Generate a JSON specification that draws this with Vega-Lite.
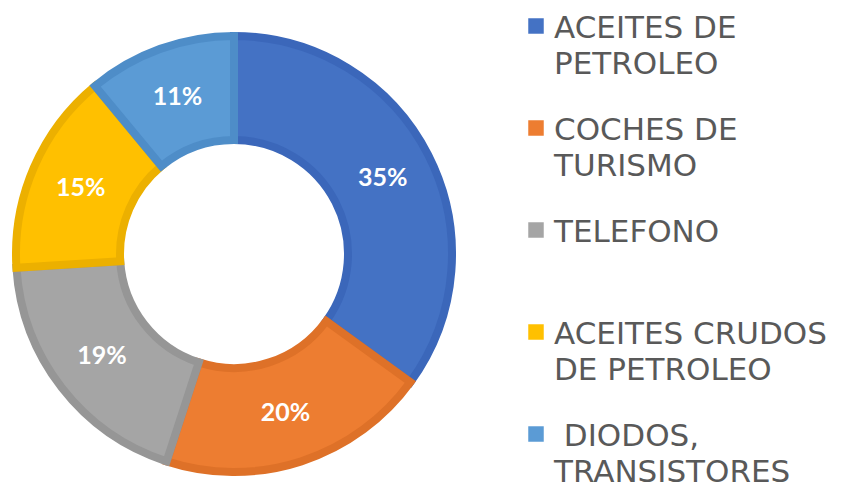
{
  "$schema": "https://vega.github.io/schema/vega-lite/v6.json",
  "padding": {"left": 0, "top": 11, "right": 0, "bottom": 0},
  "background": "white",
  "spacing": 0,
  "config": {"view": {"stroke": null}},
  "data": {
    "values": [
      {"orden": 1, "categoria": "ACEITES DE PETROLEO", "lineas": ["ACEITES DE", "PETROLEO"], "valor": 35, "etiqueta": "35%"},
      {"orden": 2, "categoria": "COCHES DE TURISMO", "lineas": ["COCHES DE", "TURISMO"], "valor": 20, "etiqueta": "20%"},
      {"orden": 3, "categoria": "TELEFONO", "lineas": ["TELEFONO"], "valor": 19, "etiqueta": "19%"},
      {"orden": 4, "categoria": "ACEITES CRUDOS DE PETROLEO", "lineas": ["ACEITES CRUDOS", "DE PETROLEO"], "valor": 15, "etiqueta": "15%"},
      {"orden": 5, "categoria": "DIODOS, TRANSISTORES", "lineas": ["\u200b\u00a0DIODOS,", "TRANSISTORES"], "valor": 11, "etiqueta": "11%"}
    ]
  },
  "hconcat": [
    {
      "width": 466,
      "height": 486,
      "encoding": {
        "theta": {"field": "valor", "type": "quantitative", "stack": true},
        "order": {"field": "orden", "type": "quantitative"}
      },
      "layer": [
        {
          "mark": {"type": "arc", "innerRadius": 114, "outerRadius": 218, "strokeWidth": 8, "strokeJoin": "miter"},
          "encoding": {
            "color": {
              "field": "categoria", "type": "nominal",
              "scale": {
                "domain": ["ACEITES DE PETROLEO", "COCHES DE TURISMO", "TELEFONO", "ACEITES CRUDOS DE PETROLEO", "DIODOS, TRANSISTORES"],
                "range": ["#4472C4", "#ED7D31", "#A5A5A5", "#FFC000", "#5B9BD5"]
              },
              "legend": null
            },
            "stroke": {
              "field": "categoria", "type": "nominal",
              "scale": {
                "domain": ["ACEITES DE PETROLEO", "COCHES DE TURISMO", "TELEFONO", "ACEITES CRUDOS DE PETROLEO", "DIODOS, TRANSISTORES"],
                "range": ["#3B67BA", "#DE7128", "#969696", "#ECB000", "#4E8DC8"]
              },
              "legend": null
            }
          }
        },
        {
          "mark": {"type": "text", "radius": 167, "font": "Lato", "fontWeight": "bold", "fontSize": 25, "fill": "white"},
          "encoding": {"text": {"field": "etiqueta", "type": "nominal"}}
        }
      ]
    },
    {
      "width": 136,
      "height": 438,
      "encoding": {
        "y": {
          "field": "categoria", "type": "nominal",
          "scale": {
            "type": "point", "padding": 0.147,
            "domain": ["ACEITES DE PETROLEO", "COCHES DE TURISMO", "TELEFONO", "ACEITES CRUDOS DE PETROLEO", "DIODOS, TRANSISTORES"]
          },
          "axis": null
        }
      },
      "layer": [
        {
          "mark": {"type": "point", "shape": "square", "size": 240, "filled": true, "opacity": 1, "strokeWidth": 0},
          "encoding": {
            "color": {
              "field": "categoria", "type": "nominal",
              "scale": {
                "domain": ["ACEITES DE PETROLEO", "COCHES DE TURISMO", "TELEFONO", "ACEITES CRUDOS DE PETROLEO", "DIODOS, TRANSISTORES"],
                "range": ["#4472C4", "#ED7D31", "#A5A5A5", "#FFC000", "#5B9BD5"]
              },
              "legend": null
            }
          }
        },
        {
          "mark": {"type": "text", "align": "left", "baseline": "alphabetic", "dx": 18, "dy": 12, "font": "DejaVu Sans", "fontSize": 31, "lineHeight": 36, "fill": "#595959"},
          "encoding": {"text": {"field": "lineas", "type": "nominal"}}
        }
      ]
    }
  ]
}
